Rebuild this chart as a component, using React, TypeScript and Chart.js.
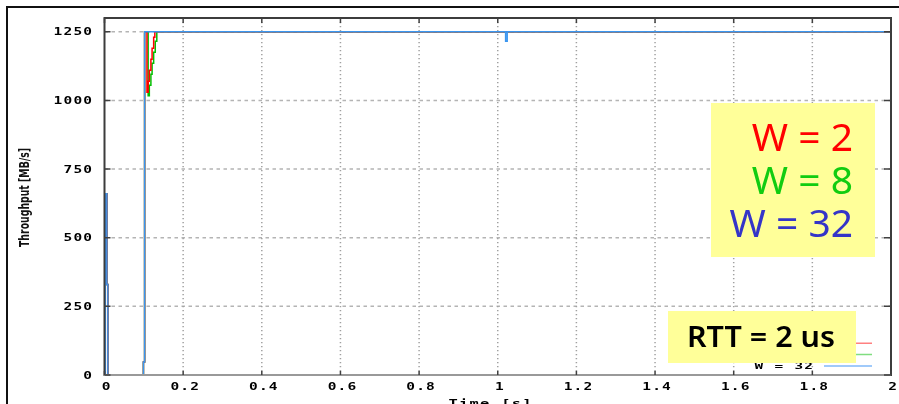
import { useEffect, useRef } from 'react';
import { Chart, registerables } from 'chart.js';

Chart.register(...registerables);

// Axis ticks
const timeTicks = [0, 0.2, 0.4, 0.6, 0.8, 1, 1.2, 1.4, 1.6, 1.8, 2];
const throughputTicks = [0, 250, 500, 750, 1000, 1250];

// Series (stepped traces): time in seconds, throughput in MB/s
const w2Time = [0, 0.002, 0.006, 0.0085, 0.099, 0.102, 0.108, 0.111, 0.114, 0.118, 0.121, 0.125, 0.128, 2];
const w2Throughput = [0, 660, 330, 0, 47, 1250, 1030, 1070, 1110, 1150, 1190, 1230, 1250, 1250];

const w8Time = [0, 0.002, 0.006, 0.0085, 0.099, 0.102, 0.111, 0.114, 0.118, 0.121, 0.125, 0.129, 0.133, 2];
const w8Throughput = [0, 660, 330, 0, 47, 1250, 1017, 1055, 1095, 1135, 1175, 1215, 1250, 1250];

const w32Time = [0, 0.002, 0.006, 0.0085, 0.099, 0.102, 1.02, 1.024, 2];
const w32Throughput = [0, 660, 330, 0, 47, 1250, 1215, 1250, 1250];

const seriesLabels = ['W = 2', 'W = 8', 'W = 32'];
const seriesColors = ['#ff0000', '#00c000', '#3a96f0'];
const legendColors = ['#ff8080', '#80dd80', '#80b8f8'];
const noteColors = ['#ff0000', '#11cc11', '#3535c8'];
const rttNote = 'RTT = 2 us';

const toPoints = (xs: number[], ys: number[]) => xs.map((x, i) => ({ x, y: ys[i] }));

const fmtTime = (v: number) => String(Number(v.toFixed(1)));

// Wide bold terminal-style text
function termText(
  ctx: CanvasRenderingContext2D,
  text: string,
  x: number,
  y: number,
  align: 'left' | 'center' | 'right',
  size = 10,
  stretch = 1.45,
  spacing = 0.8
) {
  ctx.save();
  ctx.font = `bold ${size}px "DejaVu Sans Mono", monospace`;
  (ctx as any).letterSpacing = `${spacing}px`;
  const w = (ctx.measureText(text).width - spacing) * stretch;
  const left = align === 'left' ? x : align === 'center' ? x - w / 2 : x - w;
  ctx.translate(left, y);
  ctx.scale(stretch, 1);
  ctx.textAlign = 'left';
  ctx.textBaseline = 'alphabetic';
  ctx.fillStyle = '#000';
  ctx.fillText(text, 0, 0);
  ctx.restore();
}

const decor = {
  id: 'decor',
  beforeDatasetsDraw(chart: any) {
    const { ctx, chartArea: a, scales } = chart;
    const x = scales.x;
    const y = scales.y;
    ctx.save();
    // outer frame
    ctx.strokeStyle = '#111';
    ctx.lineWidth = 2;
    ctx.beginPath();
    ctx.moveTo(7, 404);
    ctx.lineTo(7, 7);
    ctx.lineTo(899, 7);
    ctx.stroke();

    // horizontal dashed grid
    ctx.strokeStyle = '#b4b4b4';
    ctx.lineWidth = 1.5;
    ctx.setLineDash([3.5, 3.5]);
    for (const v of throughputTicks) {
      if (v === 0) continue;
      const py = y.getPixelForValue(v);
      ctx.beginPath();
      ctx.moveTo(a.left, py);
      ctx.lineTo(a.right, py);
      ctx.stroke();
    }
    // vertical dotted grid
    ctx.strokeStyle = '#a0a0a0';
    ctx.setLineDash([1.2, 2.8]);
    for (const v of timeTicks) {
      if (v === 0 || v === 2) continue;
      const px = x.getPixelForValue(v);
      ctx.beginPath();
      ctx.moveTo(px, a.top);
      ctx.lineTo(px, a.bottom);
      ctx.stroke();
    }
    ctx.restore();
  },
  afterDatasetsDraw(chart: any) {
    const { ctx, chartArea: a, scales } = chart;
    const x = scales.x;
    const y = scales.y;
    ctx.save();

    // plot border
    ctx.lineWidth = 2;
    ctx.strokeStyle = '#3c3c3c';
    ctx.beginPath();
    ctx.moveTo(a.left, a.bottom + 1);
    ctx.lineTo(a.left, a.top);
    ctx.lineTo(a.right, a.top);
    ctx.lineTo(a.right, a.bottom + 1);
    ctx.stroke();
    ctx.strokeStyle = '#999';
    ctx.beginPath();
    ctx.moveTo(a.left - 1, a.bottom);
    ctx.lineTo(a.right, a.bottom);
    ctx.stroke();

    // tick marks
    ctx.strokeStyle = '#404040';
    ctx.lineWidth = 1.5;
    for (const v of throughputTicks) {
      const py = y.getPixelForValue(v);
      ctx.beginPath();
      ctx.moveTo(a.left, py);
      ctx.lineTo(a.left + 6, py);
      ctx.moveTo(a.right, py);
      ctx.lineTo(a.right - 7, py);
      ctx.stroke();
    }
    for (const v of timeTicks) {
      const px = x.getPixelForValue(v);
      ctx.beginPath();
      ctx.moveTo(px, a.top);
      ctx.lineTo(px, a.top + 5);
      ctx.moveTo(px, a.bottom);
      ctx.lineTo(px, a.bottom - 4);
      ctx.stroke();
    }

    // tick labels
    for (const v of throughputTicks) {
      termText(ctx, String(v), 92, y.getPixelForValue(v) + 3.6, 'right');
    }
    for (const v of timeTicks) {
      termText(ctx, fmtTime(v), x.getPixelForValue(v) + 1.5, 389.5, 'center');
    }

    // axis titles
    termText(ctx, 'Time [s]', 490, 407, 'center', 11, 1.4, 0.9);
    ctx.save();
    ctx.translate(25.5, 197.5);
    ctx.rotate(-Math.PI / 2);
    ctx.font = 'bold 14px "DejaVu Sans Condensed", "DejaVu Sans", sans-serif';
    const tw = ctx.measureText('Throughput [MB/s]').width;
    ctx.scale(99 / tw, 1);
    ctx.textAlign = 'center';
    ctx.textBaseline = 'middle';
    ctx.fillStyle = '#111';
    ctx.fillText('Throughput [MB/s]', 0, 0);
    ctx.restore();

    // key
    const keyY = [343.3, 354.6, 366];
    seriesLabels.forEach((lab, i) => {
      termText(ctx, lab, 813, keyY[i] + 3.3, 'right', 9, 1.6, 0.8);
      ctx.strokeStyle = legendColors[i];
      ctx.lineWidth = 1.5;
      ctx.beginPath();
      ctx.moveTo(824, keyY[i]);
      ctx.lineTo(872, keyY[i]);
      ctx.stroke();
    });

    // note: window sizes
    ctx.fillStyle = '#ffff99';
    ctx.fillRect(711, 103, 164, 154);
    ctx.font = '39px "Noto Sans", sans-serif';
    ctx.textAlign = 'right';
    ctx.textBaseline = 'alphabetic';
    const noteY = [151, 194, 237];
    seriesLabels.forEach((lab, i) => {
      ctx.fillStyle = noteColors[i];
      ctx.fillText(lab, 853, noteY[i]);
    });

    // note: RTT
    ctx.fillStyle = '#ffff99';
    ctx.fillRect(668, 311, 188, 52);
    ctx.save();
    ctx.font = '600 29px "Noto Sans", sans-serif';
    const rw = ctx.measureText(rttNote).width;
    ctx.translate(761, 346.5);
    ctx.scale(148 / rw, 1);
    ctx.textAlign = 'center';
    ctx.textBaseline = 'alphabetic';
    ctx.fillStyle = '#000';
    ctx.fillText(rttNote, 0, 0);
    ctx.restore();

    ctx.restore();
  },
};

export default function App() {
  const ref = useRef<HTMLCanvasElement | null>(null);

  useEffect(() => {
    if (!ref.current) return;
    const mk = (i: number, xs: number[], ys: number[], order: number) => ({
      label: seriesLabels[i],
      data: toPoints(xs, ys),
      borderColor: seriesColors[i],
      backgroundColor: seriesColors[i],
      borderWidth: 1.5,
      pointRadius: 0,
      stepped: true as const,
      fill: false,
      order,
    });
    const chart = new Chart(ref.current, {
      type: 'line',
      data: {
        datasets: [
          mk(0, w2Time, w2Throughput, 1),
          mk(1, w8Time, w8Throughput, 2),
          mk(2, w32Time, w32Throughput, 0),
        ],
      },
      options: {
        responsive: false,
        maintainAspectRatio: false,
        devicePixelRatio: 1,
        animation: false,
        layout: { padding: { left: 0, right: 8, top: 18, bottom: 0 } },
        plugins: { legend: { display: false }, tooltip: { enabled: false } },
        scales: {
          x: {
            type: 'linear',
            min: 0,
            max: 2,
            ticks: { display: false },
            grid: { display: false },
            border: { display: false },
            afterFit: (s: any) => {
              s.height = 29;
            },
          },
          y: {
            type: 'linear',
            min: 0,
            max: 1300,
            ticks: { display: false },
            grid: { display: false },
            border: { display: false },
            afterFit: (s: any) => {
              s.width = 104.5;
            },
          },
        },
      },
      plugins: [decor],
    });
    return () => chart.destroy();
  }, []);

  return (
    <div style={{ position: 'fixed', left: 0, top: 0, width: 899, height: 404, background: '#fff' }}>
      <canvas ref={ref} width={899} height={404} style={{ display: 'block' }} />
    </div>
  );
}
